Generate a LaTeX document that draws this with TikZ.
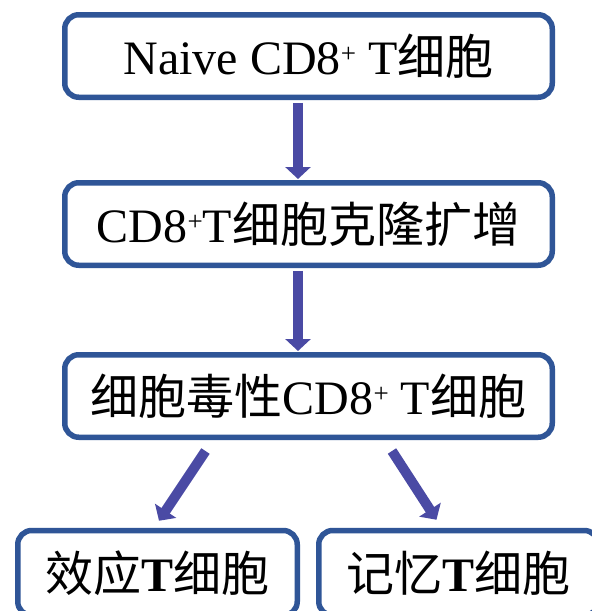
\documentclass[tikz,border=0pt]{standalone}
\usepackage{fontspec}
\setmainfont{Liberation Serif}
\newfontfamily\cjk{Noto Sans CJK SC}
\usetikzlibrary{arrows.meta,calc}
\definecolor{boxc}{HTML}{2F5597}
\definecolor{arrc}{HTML}{4A4AA4}
\newcommand{\plusup}{\raisebox{0.55ex}{\fontsize{27}{27}\selectfont +}}
\begin{document}
\begin{tikzpicture}[x=1pt,y=-1pt,
  box/.style={draw=boxc,line width=5.5pt,rounded corners=14pt,fill=white,
    inner sep=0pt,align=center,font=\fontsize{48}{52}\selectfont},
  bigarrow/.style={draw=arrc,line width=10pt,
    -{Triangle[width=25pt,length=12pt]}}]
\clip (0,0) rectangle (592,611);
\fill[white] (0,0) rectangle (592,611);
\node[box,minimum width=487.5pt,minimum height=82.5pt] (n1) at (308.5,56) {Naive CD8\plusup\ T{\cjk 细胞}};
\node[box,minimum width=487.5pt,minimum height=82.5pt] (n2) at (308.5,224) {CD8\plusup T{\cjk 细胞克隆扩增}};
\node[box,minimum width=487.5pt,minimum height=82.5pt] (n3) at (308.5,396) {{\cjk 细胞毒性}CD8\plusup\ T{\cjk 细胞}};
\node[box,minimum width=279.5pt,minimum height=85pt] (n4) at (157.5,573) {{\cjk 效应}\textbf{T}{\cjk 细胞}};
\node[box,minimum width=279.5pt,minimum height=85pt] (n5) at (458.5,573) {{\cjk 记忆}\textbf{T}{\cjk 细胞}};
\draw[bigarrow] ($(n1.south)+(-10.5,2.75)$) -- ($(n2.north)+(-10.5,-1)$);
\draw[bigarrow] ($(n2.south)+(-10.5,2.75)$) -- ($(n3.north)+(-10.5,-1)$);
\coordinate (t1) at ($(n3.south)+(-103,11)$);
\coordinate (t2) at ($(n3.south)+(83.5,11)$);
\draw[bigarrow] (t1) -- ($(n4.north)+(1.5,-7)$);
\draw[bigarrow] (t2) -- ($(n5.north)+(-22,-8)$);
\end{tikzpicture}
\end{document}
